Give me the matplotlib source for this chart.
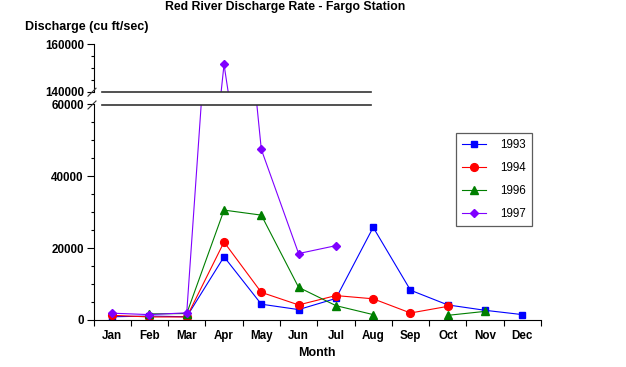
import numpy as np
import matplotlib
matplotlib.use('agg')
import matplotlib.pyplot as plt
from matplotlib.lines import Line2D
from matplotlib.ticker import MultipleLocator

plt.rcParams['font.family'] = ['Liberation Sans', 'DejaVu Sans']

months = ['Jan', 'Feb', 'Mar', 'Apr', 'May', 'Jun', 'Jul', 'Aug', 'Sep', 'Oct', 'Nov', 'Dec']
nan = np.nan
q1993 = [900, 1100, 900, 17600, 4400, 2900, 6000, 25800, 8300, 4200, 2700, 1500]
q1994 = [1300, 850, 850, 21700, 7700, 4200, 6800, 5900, 1950, 3800, nan, nan]
q1996 = [nan, 1700, 1800, 30600, 29200, 9100, 4000, 1500, nan, 1300, 2400, nan]
q1997 = [1900, 1500, 2000, 151500, 47500, 18500, 20700, nan, nan, nan, nan, nan]

series = [
    ('1993', q1993, '#0000ff', 's', 5.0),
    ('1994', q1994, '#ff0000', 'o', 5.6),
    ('1996', q1996, '#007f00', '^', 5.5),
    ('1997', q1997, '#7f00ff', 'D', 4.0),
]

W, H = 626, 367
fig = plt.figure(figsize=(W / 100, H / 100), dpi=100)

def fx(px):
    return px / W

def fy(py):
    return 1 - py / H

left, right = 93.5, 541
ax = fig.add_axes([fx(left), fy(320), fx(right - left), (320 - 104.5) / H])
ax_top = fig.add_axes([fx(left), fy(91.7), fx(right - left), (91.7 - 44.3) / H])

x = np.arange(len(months))
for axis in (ax, ax_top):
    for name, vals, col, mk, ms in series:
        axis.plot(x, vals, color=col, lw=0.8, marker=mk, ms=ms,
                  markeredgecolor=col, markerfacecolor=col, label=name)
    axis.set_xlim(-0.5, 11.5)
    for s in ('top', 'right'):
        axis.spines[s].set_visible(False)
    axis.tick_params(axis='y', which='major', direction='out', length=5, width=0.8,
                     pad=2, labelsize=8.4)
    axis.tick_params(axis='y', which='minor', direction='out', length=2.4, width=0.8)
    axis.yaxis.set_minor_locator(MultipleLocator(5000))

ax.set_ylim(0, 60000)
ax.set_yticks([0, 20000, 40000, 60000])
ax.set_xticks(np.arange(-0.5, 12, 1))
ax.set_xticklabels([])
ax.set_xticks(x, minor=True)
ax.set_xticklabels(months, minor=True, fontweight='bold', fontsize=8.4)
ax.tick_params(axis='x', which='major', direction='out', length=4.3, width=0.8)
ax.tick_params(axis='x', which='minor', length=0, pad=7)
for lab in ax.get_yticklabels():
    lab.set_fontweight('bold')
ax.set_xlabel('Month', fontweight='bold', fontsize=9, labelpad=4)

ax_top.set_ylim(140000, 160000)
ax_top.set_yticks([140000, 160000])
for lab in ax_top.get_yticklabels():
    lab.set_fontweight('bold')
ax_top.spines['bottom'].set_visible(False)
ax_top.set_xticks([])

# break lines and slashes
for yb in (91.7, 104.5):
    fig.add_artist(Line2D([fx(101.7), fx(370.7)], [fy(yb), fy(yb)], color='#333333', lw=1.2))
    fig.add_artist(Line2D([fx(88), fx(96)], [fy(yb + 4.5), fy(yb - 3.5)], color='#333333', lw=0.8))

fig.text(fx(285), fy(7), 'Red River Discharge Rate - Fargo Station', ha='center', va='center',
         fontweight='bold', fontsize=8.8)
fig.text(fx(25), fy(27), 'Discharge (cu ft/sec)', ha='left', va='center',
         fontweight='bold', fontsize=9)

handles, labels = ax.get_legend_handles_labels()
leg = fig.legend(handles, labels, loc='upper left', bbox_to_anchor=(fx(456), fy(133)),
                 borderaxespad=0, fancybox=False, edgecolor='#333333', fontsize=8.4,
                 handlelength=2.0, labelspacing=0.93, borderpad=0.55, handletextpad=1.2)
leg.get_frame().set_linewidth(0.9)

fig.savefig('out.png', dpi=100)
